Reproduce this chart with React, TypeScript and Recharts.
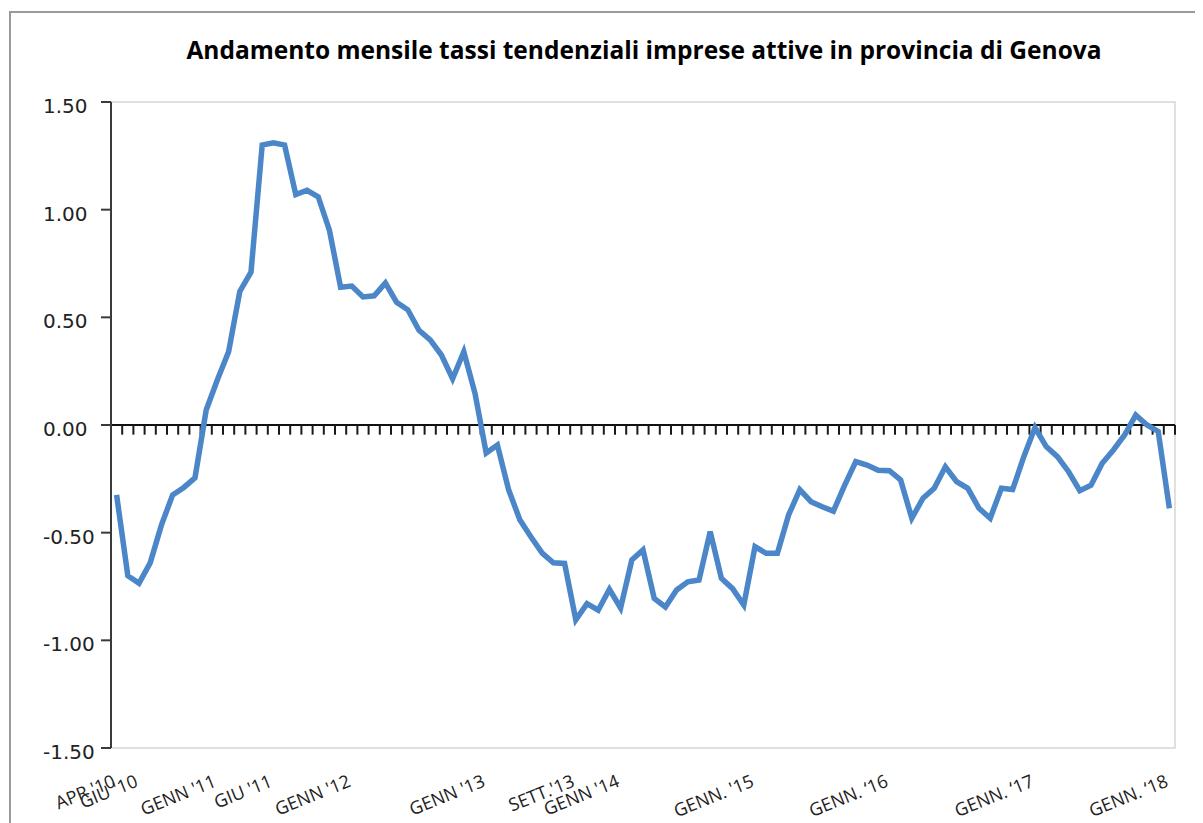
import React from 'react';
import { LineChart, Line, XAxis, YAxis, ReferenceLine, ReferenceArea } from 'recharts';

// Apr 2010 -> Feb 2018, one value per month
const MONTHS = ['GEN', 'FEB', 'MAR', 'APR', 'MAG', 'GIU', 'LUG', 'AGO', 'SET', 'OTT', 'NOV', 'DIC'];

const VALUES = [
  -0.325, -0.7, -0.735, -0.64, -0.465, -0.325, -0.29, -0.245, 0.07, 0.21,
  0.34, 0.62, 0.71, 1.3, 1.31, 1.3, 1.07, 1.09, 1.06, 0.905,
  0.64, 0.645, 0.595, 0.6, 0.66, 0.57, 0.535, 0.44, 0.395, 0.325,
  0.215, 0.34, 0.147, -0.13, -0.093, -0.3, -0.44, -0.52, -0.595, -0.64,
  -0.643, -0.905, -0.83, -0.86, -0.763, -0.85, -0.627, -0.58, -0.805, -0.845,
  -0.766, -0.728, -0.72, -0.495, -0.712, -0.76, -0.836, -0.565, -0.596, -0.596,
  -0.418, -0.3, -0.356, -0.38, -0.4, -0.28, -0.17, -0.186, -0.21, -0.212,
  -0.255, -0.433, -0.34, -0.294, -0.194, -0.263, -0.294, -0.387, -0.433, -0.294,
  -0.3, -0.147, -0.012, -0.1, -0.147, -0.217, -0.305, -0.28, -0.178, -0.116,
  -0.046, 0.046, 0.0, -0.03, -0.387,
];

const CATEGORIES = VALUES.map((_, i) => {
  const m = (3 + i) % 12;
  const y = 10 + Math.floor((3 + i) / 12);
  return `${MONTHS[m]} '${y}`;
});

const TICK_INDEX = [0, 2, 9, 14, 21, 33, 41, 45, 57, 69, 82, 94];
const TICK_TEXT = [
  "APR '10", "GIU '10", "GENN '11", "GIU '11", "GENN '12", "GENN '13",
  "SETT.'13", "GENN '14", "GENN. '15", "GENN. \u201816", "GENN. \u201817", "GENN. \u201818",
];

const Y_TICKS = [-1.5, -1, -0.5, 0, 0.5, 1, 1.5];

const data = VALUES.map((v, i) => ({ idx: i, month: CATEGORIES[i], value: v }));
const boundaries = Array.from({ length: VALUES.length + 1 }, (_, k) => k - 0.5);

const XTick = ({ x, y, payload }: { x?: number; y?: number; payload?: { value: number } }) => {
  const label = TICK_TEXT[TICK_INDEX.indexOf(payload?.value ?? -1)];
  return (
    <g transform={`translate(${x},${(y ?? 0) + 30})`}>
      <text
        x={0}
        y={0}
        textAnchor="end"
        transform="rotate(-22)"
        fontFamily="'Open Sans', sans-serif"
        fontSize={18}
        fill="#222"
      >
        {label}
      </text>
    </g>
  );
};

const YTick = ({ y, payload }: { y?: number; payload?: { value: number } }) => (
  <text
    x={35}
    y={(y ?? 0) + 11}
    textAnchor="start"
    fontFamily="'DejaVu Sans', sans-serif"
    fontSize={20}
    fill="#222"
  >
    {(payload?.value ?? 0).toFixed(2)}
  </text>
);

export default function App() {
  return (
    <div style={{ position: 'relative', width: 1195, height: 815, overflow: 'hidden', background: '#fff' }}>
      <div
        style={{
          position: 'absolute',
          left: 1,
          top: 3,
          width: 1400,
          height: 1000,
          border: '2px solid #9a9a9a',
        }}
      />
      <div
        style={{
          position: 'absolute',
          left: 0,
          top: 25,
          width: 1272,
          textAlign: 'center',
          fontFamily: "'Open Sans', sans-serif",
          fontWeight: 700,
          fontSize: 24.5,
          color: '#000',
        }}
      >
        Andamento mensile tassi tendenziali imprese attive in provincia di Genova
      </div>
      <div style={{ position: 'absolute', left: 0, top: 0 }}>
        <LineChart width={1195} height={815} data={data} margin={{ top: 94, right: 28, bottom: 15, left: 43 }}>
          <ReferenceArea
            x1={-0.5}
            x2={94.5}
            y1={-1.5}
            y2={1.5}
            fill="none"
            stroke="#d6d6d6"
            strokeWidth={1.5}
          />
          <XAxis
            type="number"
            dataKey="idx"
            domain={[-0.5, 94.5]}
            ticks={TICK_INDEX}
            interval={0}
            tick={<XTick />}
            axisLine={false}
            tickLine={false}
            height={60}
          />
          <YAxis
            type="number"
            domain={[-1.5, 1.5]}
            ticks={Y_TICKS}
            interval={0}
            width={60}
            tick={<YTick />}
            axisLine={{ stroke: '#3a3a3a', strokeWidth: 2 }}
            tickLine={{ stroke: '#3a3a3a', strokeWidth: 2 }}
            tickSize={10}
          />
          <ReferenceLine y={0} stroke="#111" strokeWidth={2} />
          {boundaries.map((b) => (
            <ReferenceLine
              key={b}
              segment={[{ x: b, y: 0 }, { x: b, y: -0.045 }]}
              stroke="#1a1a1a"
              strokeWidth={2}
              ifOverflow="visible"
            />
          ))}
          <Line
            type="linear"
            dataKey="value"
            stroke="#4a86c8"
            strokeWidth={5.5}
            dot={false}
            isAnimationActive={false}
          />
        </LineChart>
      </div>
    </div>
  );
}
